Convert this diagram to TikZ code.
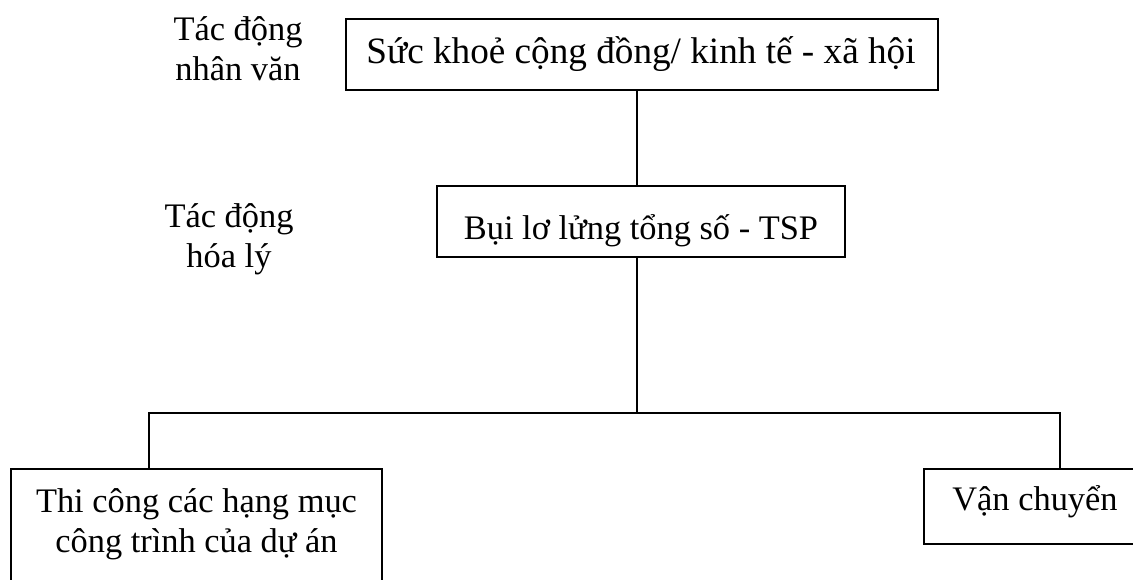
\documentclass[tikz,border=0pt]{standalone}
\usepackage{fontspec}
\setmainfont{Liberation Serif}
\begin{document}
\begin{tikzpicture}[x=1pt,y=-1pt,
  box/.style={draw,line width=1.6pt,inner sep=0pt},
  wire/.style={line width=1.6pt},
  txt/.style={font=\fontsize{34.4}{40}\selectfont,inner sep=0pt,align=center},
  bigtxt/.style={txt,font=\fontsize{37.2}{43}\selectfont}]
\useasboundingbox (0,0) rectangle (1133,579);
\begin{scope}
\clip (0,0) rectangle (1133,579);
% boxes
\node[box,minimum width=592pt,minimum height=71pt] (health) at (642,54.5) {};
\node[box,minimum width=408pt,minimum height=71pt] (dust) at (641,221.5) {};
\node[box,anchor=north,minimum width=371pt,minimum height=140pt] (build) at (196.5,468) {};
\node[box,anchor=north west,minimum width=240pt,minimum height=75pt] (transport) at (923,468) {};
% box texts (anchored at the baseline of their last line)
\node[bigtxt,anchor=base] (healthtxt) at (641,63) {Sức khoẻ cộng đồng/ kinh tế - xã hội};
\node[txt,anchor=base] (dusttxt) at (641,239) {Bụi lơ lửng tổng số - TSP};
\node[txt,anchor=base] (buildtxt) at (196.5,552) {Thi công các hạng mục\\công trình của dự án};
\node[txt,anchor=base] (transporttxt) at (1035,510) {Vận chuyển};
% side labels
\node[txt,anchor=base] (humanlbl) at (238,80) {Tác động\\nhân văn};
\node[txt,anchor=base] (physlbl) at (229,267) {Tác động\\hóa lý};
% connectors
\coordinate (hub) at (637,413);
\coordinate (ldrop) at (149,413);
\coordinate (rdrop) at (1060,413);
\draw[wire] (health.south -| hub) -- (dust.north -| hub);
\draw[wire] (dust.south -| hub) -- (hub);
\draw[wire] (build.north -| ldrop) -- (ldrop) -- (rdrop) -- (transport.north -| rdrop);
\end{scope}
\end{tikzpicture}
\end{document}
